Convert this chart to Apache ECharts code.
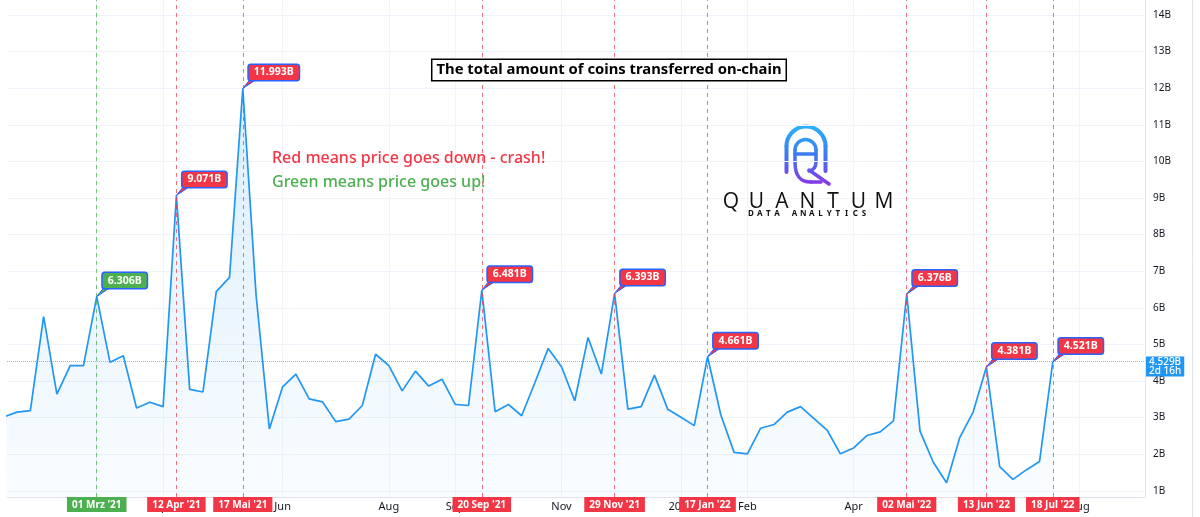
<!DOCTYPE html>
<html>
<head>
<meta charset="utf-8">
<title>The total amount of coins transferred on-chain</title>
<script src="https://cdn.jsdelivr.net/npm/echarts@6/dist/echarts.min.js"></script>
<style>
  html, body { margin: 0; padding: 0; background: #fff; }
  #chart { width: 1200px; height: 517px; }
</style>
</head>
<body>
<div id="chart"></div>
<script>
// first weekly bar (Monday)
const startWeek = '2021-01-11'
// coins transferred per week, in billions
const weeklyValues = [
  3.02, 3.15, 3.19, 5.76, 3.64, 4.42, 4.42, // Jan 11 - Feb 22 '21
  6.306, 4.51, 4.69, 3.26, 3.42, 3.30, // Mar 1 - Apr 5
  9.071, 3.77, 3.70, 6.44, 6.83, // Apr 12 - May 10
  11.993, 6.35, 2.69, 3.84, 4.19, 3.51, 3.43, // May 17 - Jun 28
  2.89, 2.96, 3.33, 4.73, 4.42, 3.73, 4.27, 3.86, 4.05, // Jul 5 - Aug 30
  3.36, 3.33, 6.481, 3.16, // Sep
  3.36, 3.05, 3.96, 4.89, // Oct
  4.39, 3.46, 5.19, 4.19, 6.393, // Nov
  3.23, 3.30, 4.16, 3.23, // Dec
  3.01, 2.78, 4.661, 3.07, 2.05, // Jan '22
  2.01, 2.71, 2.81, 3.15, // Feb
  3.30, 2.98, 2.66, 2.01, // Mar
  2.17, 2.51, 2.61, 2.91, // Apr
  6.376, 2.63, 1.78, 1.22, 2.46, // May
  3.15, 4.381, 1.66, 1.31, // Jun
  1.57, 1.80, 4.521 // Jul 4 - Jul 18
]

// marked weeks (dashed lines + callouts)
const markerDates = ['2021-03-01', '2021-04-12', '2021-05-17', '2021-09-20', '2021-11-29', '2022-01-17', '2022-05-02', '2022-06-13', '2022-07-18']
const markerLabels = ["01 Mrz '21", "12 Apr '21", "17 Mai '21", "20 Sep '21", "29 Nov '21", "17 Jan '22", "02 Mai '22", "13 Jun '22", "18 Jul '22"]
const markerKinds = ['up', 'down', 'down', 'down', 'down', 'down', 'down', 'down', 'down']
const calloutTexts = ['6.306B', '9.071B', '11.993B', '6.481B', '6.393B', '4.661B', '6.376B', '4.381B', '4.521B']

// time axis ticks
const xTickDates = ['2021-03-01', '2021-04-05', '2021-06-07', '2021-08-02', '2021-09-06', '2021-11-01', '2022-01-03', '2022-02-07', '2022-04-04', '2022-06-06', '2022-08-01']
const xTickLabels = ['Mar', 'Apr', 'Jun', 'Aug', 'Sep', 'Nov', '2022', 'Feb', 'Apr', 'Jun', 'Aug']
const yTicks = [1, 2, 3, 4, 5, 6, 7, 8, 9, 10, 11, 12, 13, 14]

const lastPrice = 4.529
const lastPriceText = '4.529B\n2d 16h'

const RED = '#f23645'
const GREEN = '#4caf50'
const BLUE = '#2196f3'
const FONT = '"Noto Sans", "DejaVu Sans", sans-serif'
const DAY = 86400000

// dates as plain day numbers (UTC) for a value axis
function ts(s) {
  const p = s.split('-').map(Number)
  return Date.UTC(p[0], p[1] - 1, p[2]) / DAY
}

// weekly dates for the values
const weekDays = weeklyValues.map((v, i) => ts(startWeek) + i * 7)
const lineData = weeklyValues.map((v, i) => [weekDays[i], v])

const calloutData = markerDates.map(d => {
  const i = weekDays.indexOf(ts(d))
  return [ts(d), weeklyValues[i]]
})

const tickDays = xTickDates.map(ts)
const tickText = {}
tickDays.forEach((t, i) => { tickText[t] = xTickLabels[i] })

// vertical dashed lines with the date box at the bottom
const markerLines = markerDates.map((d, i) => {
  const up = markerKinds[i] === 'up'
  const c = up ? GREEN : RED
  return {
    xAxis: ts(d),
    lineStyle: { color: up ? 'rgba(76,175,80,0.75)' : 'rgba(242,54,69,0.7)', type: [4, 4], width: 1 },
    label: {
      show: true,
      position: 'start',
      distance: 0,
      formatter: markerLabels[i],
      color: '#fff',
      backgroundColor: c,
      fontFamily: FONT,
      fontSize: 10,
      fontWeight: 'bold',
      padding: [3, 5, 2, 5]
    }
  }
})

// current value line on the price scale
markerLines.push({
  yAxis: lastPrice,
  lineStyle: { color: 'rgba(33,150,243,0.6)', type: 'dotted', width: 1 },
  label: {
    show: true,
    position: 'end',
    distance: 1,
    offset: [0, 5],
    formatter: lastPriceText,
    color: '#fff',
    backgroundColor: BLUE,
    fontFamily: FONT,
    fontSize: 10,
    fontWeight: 500,
    lineHeight: 9,
    padding: [1, 3, 1, 3]
  }
})

// letters spread out evenly between two x positions
function spaced(str, x0, x1, y, font) {
  const step = (x1 - x0) / (str.length - 1)
  return str.split('').map((ch, i) => ({
    type: 'text',
    x: x0 + i * step,
    y: y,
    z: 10,
    silent: true,
    style: { text: ch, font: font, fill: '#111', align: 'center', verticalAlign: 'middle' }
  }))
}

const logoGrad = {
  type: 'linear', x: 0, y: 0, x2: 0, y2: 60, global: true,
  colorStops: [
    { offset: 0, color: '#2bb5f5' },
    { offset: 0.5, color: '#3d78f2' },
    { offset: 1, color: '#8a35e6' }
  ]
}
const logoStroke = (w) => ({ fill: null, stroke: logoGrad, lineWidth: w, lineCap: 'round' })

const chart = echarts.init(document.getElementById('chart'))

chart.setOption({
  animation: false,
  backgroundColor: '#fff',
  grid: { left: 7, right: 55, top: 0, bottom: 20, outerBoundsMode: 'none' },
  xAxis: {
    type: 'value',
    min: ts('2021-03-01') - 47.3,
    max: ts('2022-07-18') + 48.6,
    axisLine: { show: true, onZero: false, lineStyle: { color: '#e0e3eb' } },
    axisTick: { show: false, customValues: tickDays },
    axisLabel: {
      customValues: tickDays,
      formatter: v => tickText[v] || '',
      color: '#131722',
      fontFamily: FONT,
      fontSize: 11,
      margin: 4,
      hideOverlap: false
    },
    splitLine: { show: true, lineStyle: { color: '#f0f3fa' } }
  },
  yAxis: {
    type: 'value',
    position: 'right',
    min: 0.83,
    max: 14.41,
    axisLine: { show: true, lineStyle: { color: '#e0e3eb' } },
    axisTick: { show: false, customValues: yTicks },
    axisLabel: {
      customValues: yTicks,
      formatter: v => v + 'B',
      color: '#131722',
      fontFamily: FONT,
      fontSize: 10,
      margin: 8
    },
    splitLine: { show: true, lineStyle: { color: '#f0f3fa' } }
  },
  series: [
    {
      name: 'Transferred',
      type: 'line',
      data: lineData,
      showSymbol: false,
      color: BLUE,
      lineStyle: { width: 1.7, color: BLUE },
      areaStyle: {
        color: new echarts.graphic.LinearGradient(0, 0, 0, 1, [
          { offset: 0, color: 'rgba(33,150,243,0.24)' },
          { offset: 1, color: 'rgba(33,150,243,0.03)' }
        ])
      },
      markLine: {
        silent: true,
        symbol: ['none', 'none'],
        data: markerLines
      },
      z: 3
    },
    {
      // value callouts at the marked weeks
      type: 'custom',
      data: calloutData,
      clip: false,
      silent: true,
      z: 5,
      renderItem(params, api) {
        const p = api.coord([api.value(0), api.value(1)])
        const i = params.dataIndex
        const fill = markerKinds[i] === 'up' ? GREEN : RED
        return {
          type: 'group',
          children: [
            {
              type: 'polygon',
              shape: { points: [[p[0], p[1]], [p[0] + 8, p[1] - 10], [p[0] + 15, p[1] - 10]] },
              style: { fill: fill, stroke: '#2962ff', lineWidth: 1 }
            },
            {
              type: 'text',
              x: p[0] + 6,
              y: p[1] - 8.5,
              style: {
                text: calloutTexts[i],
                font: 'bold 10.5px ' + FONT,
                fill: '#fff',
                align: 'left',
                verticalAlign: 'bottom',
                backgroundColor: fill,
                borderColor: '#2962ff',
                borderWidth: 1.5,
                borderRadius: 2,
                padding: [2, 5, 2, 5]
              }
            }
          ]
        }
      }
    }
  ],
  graphic: [
    {
      type: 'text',
      x: 609,
      y: 70,
      z: 10,
      silent: true,
      style: {
        text: 'The total amount of coins transferred on-chain',
        font: 'bold 14.8px ' + FONT,
        fill: '#000',
        align: 'center',
        verticalAlign: 'middle',
        backgroundColor: '#fff',
        borderColor: '#000',
        borderWidth: 1.5,
        padding: [3, 4, 2, 4]
      }
    },
    {
      type: 'text',
      x: 272,
      y: 158,
      z: 10,
      silent: true,
      style: { text: 'Red means price goes down - crash!', font: '500 16px ' + FONT, fill: RED, verticalAlign: 'middle' }
    },
    {
      type: 'text',
      x: 272,
      y: 182,
      z: 10,
      silent: true,
      style: { text: 'Green means price goes up!', font: '500 16px ' + FONT, fill: GREEN, verticalAlign: 'middle' }
    },
    {
      // logo mark: arch, "A" and "Q"
      type: 'group',
      x: 783,
      y: 125,
      z: 10,
      silent: true,
      children: [
        { type: 'arc', shape: { cx: 23, cy: 21, r: 19.5, startAngle: Math.PI, endAngle: 2 * Math.PI }, style: logoStroke(4) },
        { type: 'line', shape: { x1: 3.5, y1: 21, x2: 3.5, y2: 47 }, style: logoStroke(4) },
        { type: 'line', shape: { x1: 42.5, y1: 21, x2: 42.5, y2: 46 }, style: logoStroke(4) },
        { type: 'arc', shape: { cx: 22.5, cy: 25, r: 10.5, startAngle: Math.PI, endAngle: 2 * Math.PI }, style: logoStroke(3.5) },
        { type: 'line', shape: { x1: 12, y1: 25, x2: 12, y2: 37 }, style: logoStroke(3.5) },
        { type: 'line', shape: { x1: 33, y1: 25, x2: 33, y2: 36 }, style: logoStroke(3.5) },
        { type: 'line', shape: { x1: 12, y1: 29, x2: 33, y2: 29 }, style: logoStroke(3.5) },
        { type: 'bezierCurve', shape: { x1: 12, y1: 37, cpx1: 12, cpy1: 52, cpx2: 18, cpy2: 57, x2: 28, y2: 57 }, style: logoStroke(3.5) },
        { type: 'line', shape: { x1: 28, y1: 57, x2: 38, y2: 57 }, style: logoStroke(3.5) },
        { type: 'bezierCurve', shape: { x1: 33, y1: 37, cpx1: 33, cpy1: 42, cpx2: 31, cpy2: 45, x2: 26, y2: 46 }, style: logoStroke(3.5) },
        { type: 'line', shape: { x1: 26, y1: 45, x2: 46, y2: 59 }, style: logoStroke(3.5) }
      ]
    },
    ...spaced('QUANTUM', 731, 884, 202, '500 21px "Open Sans", ' + FONT),
    ...spaced('DATA ANALYTICS', 751, 864, 214, 'bold 8px ' + FONT),
    {
      type: 'line',
      silent: true,
      shape: { x1: 1192.5, y1: 0, x2: 1192.5, y2: 517 },
      style: { stroke: '#e0e3eb', lineWidth: 1 }
    }
  ]
})
</script>
</body>
</html>
